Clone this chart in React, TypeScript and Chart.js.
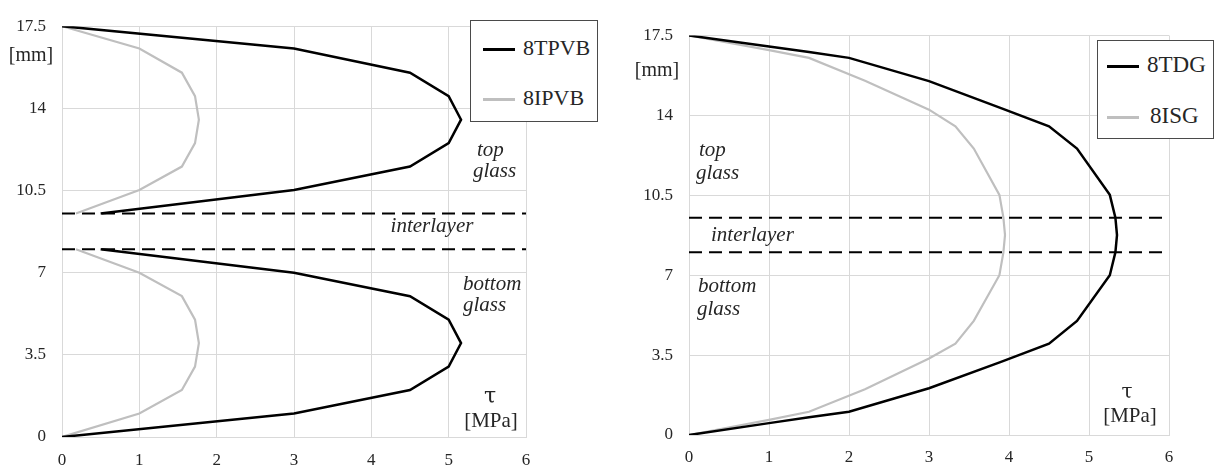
import React, { useEffect, useRef } from "react";
import { Chart, registerables } from "chart.js";

Chart.register(...registerables);

// ---------- data ----------
const xTicks = [0, 1, 2, 3, 4, 5, 6];
const yTicks = [0, 3.5, 7, 10.5, 14, 17.5];
const interlayerBounds = [8, 9.52];

// left panel (PVB)
const tpvbTau = [0, 3, 4.5, 5, 5.16, 5, 4.5, 3, 0.5, null, 0.5, 3, 4.5, 5, 5.16, 5, 4.5, 3, 0];
const tpvbDepth = [0, 1, 2, 3, 4, 5, 6, 7, 8, null, 9.52, 10.52, 11.52, 12.52, 13.52, 14.52, 15.52, 16.55, 17.5];
const ipvbTau = [0, 1, 1.55, 1.72, 1.77, 1.72, 1.55, 1, 0.18, null, 0.18, 1, 1.55, 1.72, 1.77, 1.72, 1.55, 1, 0];
const ipvbDepth = [0, 1, 2, 3, 4, 5, 6, 7, 8, null, 9.52, 10.52, 11.52, 12.52, 13.52, 14.52, 15.52, 16.55, 17.5];

// right panel (SG)
const tdgTau = [0, 1, 1.5, 2, 3, 3.9, 4.5, 4.85, 5.26, 5.33, 5.35, 5.33, 5.26, 4.85, 4.5, 3.9, 3, 2, 1.5, 1, 0];
const tdgDepth = [0, 0.52, 0.78, 1.02, 2.05, 3.2, 4.0, 5.0, 7.0, 8.0, 8.76, 9.52, 10.52, 12.55, 13.52, 14.32, 15.5, 16.52, 16.78, 17.02, 17.5];
const isgTau = [0, 1, 1.5, 2.2, 3, 3.33, 3.56, 3.88, 3.93, 3.95, 3.93, 3.88, 3.56, 3.33, 3, 2.2, 1.5, 1, 0];
const isgDepth = [0, 0.66, 1.02, 2.0, 3.35, 4.0, 5.0, 7.0, 8.0, 8.76, 9.52, 10.52, 12.55, 13.52, 14.25, 15.52, 16.52, 16.86, 17.5];

const leftLegend = ["8TPVB", "8IPVB"];
const rightLegend = ["8TDG", "8ISG"];

// ---------- styles ----------
const BLACK = "#000000";
const GRAY = "#bfbfbf";
const TEXT = "#262626";
const SERIF = "'Liberation Serif', 'Times New Roman', serif";
const TAU_FONT = "'DejaVu Serif', serif";

const pts = (xs: (number | null)[], ys: (number | null)[]) =>
  xs.map((x, i) => ({ x, y: ys[i] }));

type Geo = { width: number; left: number; right: number; top: number; bottom: number; height: number; xPad: number };

function makeConfig(series: { tau: (number | null)[]; depth: (number | null)[]; color: string; width: number }[], g: Geo) {
  const datasets: any[] = series.map((s) => ({
    data: pts(s.tau, s.depth),
    borderColor: s.color,
    borderWidth: s.width,
    pointRadius: 0,
    tension: 0,
    spanGaps: false,
    fill: false,
  }));
  interlayerBounds.forEach((b) => {
    datasets.push({
      data: [
        { x: xTicks[0], y: b },
        { x: xTicks[xTicks.length - 1], y: b },
      ],
      borderColor: BLACK,
      borderWidth: 2,
      borderDash: [13, 7],
      pointRadius: 0,
      fill: false,
    });
  });
  return {
    type: "line" as const,
    data: { datasets },
    options: {
      animation: false,
      responsive: false,
      events: [],
      layout: { padding: { top: g.top, right: g.width - g.right, left: 0, bottom: 0 } },
      plugins: { legend: { display: false }, tooltip: { enabled: false } },
      scales: {
        x: {
          type: "linear",
          min: xTicks[0],
          max: xTicks[xTicks.length - 1],
          afterFit: (s: any) => {
            s.height = g.height - g.bottom;
          },
          afterBuildTicks: (s: any) => {
            s.ticks = xTicks.map((v) => ({ value: v }));
          },
          grid: { color: "#d9d9d9", lineWidth: 1, drawTicks: false },
          border: { color: "#d9d9d9" },
          ticks: {
            padding: g.xPad,
            color: TEXT,
            font: { family: SERIF, size: 17 },
            callback: (v: any) => String(v),
          },
        },
        y: {
          type: "linear",
          min: yTicks[0],
          max: yTicks[yTicks.length - 1],
          afterFit: (s: any) => {
            s.width = g.left;
          },
          afterBuildTicks: (s: any) => {
            s.ticks = yTicks.map((v) => ({ value: v }));
          },
          grid: { color: "#d9d9d9", lineWidth: 1, drawTicks: false },
          border: { color: "#d9d9d9" },
          ticks: {
            padding: 16,
            color: TEXT,
            font: { family: SERIF, size: 17 },
            callback: (v: any) => String(v),
          },
        },
      },
    },
  };
}

function ChartPanel({ series, g, offset }: { series: any[]; g: Geo; offset: number }) {
  const ref = useRef<HTMLCanvasElement | null>(null);
  useEffect(() => {
    if (!ref.current) return;
    const chart = new Chart(ref.current, makeConfig(series, g) as any);
    return () => chart.destroy();
  }, []);
  return (
    <canvas
      ref={ref}
      width={g.width}
      height={g.height}
      style={{ position: "absolute", left: offset, top: 0, width: g.width, height: g.height }}
    />
  );
}

function Label({
  text,
  x,
  baseline,
  size,
  italic,
  center,
  family,
}: {
  text: string;
  x: number;
  baseline: number;
  size: number;
  italic?: boolean;
  center?: boolean;
  family?: string;
}) {
  return (
    <div
      style={{
        position: "absolute",
        left: x,
        top: baseline - 0.8375 * size,
        fontFamily: family || SERIF,
        fontSize: size,
        lineHeight: `${size}px`,
        fontStyle: italic ? "italic" : "normal",
        color: TEXT,
        whiteSpace: "nowrap",
        transform: center ? "translateX(-50%)" : undefined,
      }}
    >
      {text}
    </div>
  );
}

function Legend({
  left,
  top,
  width,
  height,
  items,
  lineX,
  lineW,
  rows,
  textX,
  size,
}: {
  left: number;
  top: number;
  width: number;
  height: number;
  items: string[];
  lineX: number;
  lineW: number;
  rows: number[];
  textX: number[];
  size: number;
}) {
  const colors = [BLACK, GRAY];
  return (
    <>
      <div
        style={{
          position: "absolute",
          left,
          top,
          width,
          height,
          boxSizing: "border-box",
          border: "1.5px solid #4a4a4a",
          background: "#ffffff",
        }}
      />
      {items.map((t, i) => (
        <React.Fragment key={t}>
          <div
            style={{
              position: "absolute",
              left: lineX,
              top: rows[i] - 1.5,
              width: lineW,
              height: 3,
              background: colors[i],
            }}
          />
          <Label text={t} x={textX[i]} baseline={rows[i] + 6} size={size} />
        </React.Fragment>
      ))}
    </>
  );
}

export default function App() {
  const leftGeo: Geo = { width: 607, height: 469, left: 62, right: 526, top: 20, bottom: 437, xPad: 13 };
  const rightGeo: Geo = { width: 607, height: 469, left: 82, right: 562, top: 35.5, bottom: 435, xPad: 12 };
  return (
    <div style={{ position: "absolute", left: 0, top: 0, width: 1214, height: 469, background: "#fff", overflow: "hidden" }}>
      <ChartPanel
        offset={0}
        g={leftGeo}
        series={[
          { tau: tpvbTau, depth: tpvbDepth, color: BLACK, width: 2.5 },
          { tau: ipvbTau, depth: ipvbDepth, color: GRAY, width: 2.2 },
        ]}
      />
      <ChartPanel
        offset={607}
        g={rightGeo}
        series={[
          { tau: tdgTau, depth: tdgDepth, color: BLACK, width: 2.5 },
          { tau: isgTau, depth: isgDepth, color: GRAY, width: 2.2 },
        ]}
      />

      {/* left panel texts */}
      <Label text="[mm]" x={31} baseline={61} size={20} center />
      <Label text="top" x={477} baseline={157} size={21} italic />
      <Label text="glass" x={473} baseline={178} size={21} italic />
      <Label text="interlayer" x={432} baseline={233} size={21} italic center />
      <Label text="bottom" x={463} baseline={291} size={21} italic />
      <Label text="glass" x={463} baseline={312} size={21} italic />
      <Label text="τ" x={490} baseline={403} size={22} center family={TAU_FONT} />
      <Label text="[MPa]" x={491} baseline={428} size={21} center />
      <Legend
        left={470}
        top={20}
        width={128}
        height={102}
        items={leftLegend}
        lineX={483}
        lineW={32}
        rows={[49, 99]}
        textX={[523, 523]}
        size={22}
      />

      {/* right panel texts */}
      <Label text="[mm]" x={657} baseline={76} size={20} center />
      <Label text="top" x={699} baseline={157} size={21} italic />
      <Label text="glass" x={696} baseline={180} size={21} italic />
      <Label text="interlayer" x={711} baseline={242} size={21} italic />
      <Label text="bottom" x={698} baseline={293} size={21} italic />
      <Label text="glass" x={697} baseline={316} size={21} italic />
      <Label text="τ" x={1127} baseline={398} size={20} center family={TAU_FONT} />
      <Label text="[MPa]" x={1130} baseline={423} size={21} center />
      <Legend
        left={1097}
        top={40}
        width={117}
        height={99}
        items={rightLegend}
        lineX={1107}
        lineW={32}
        rows={[66, 117]}
        textX={[1147, 1150]}
        size={23}
      />
    </div>
  );
}
